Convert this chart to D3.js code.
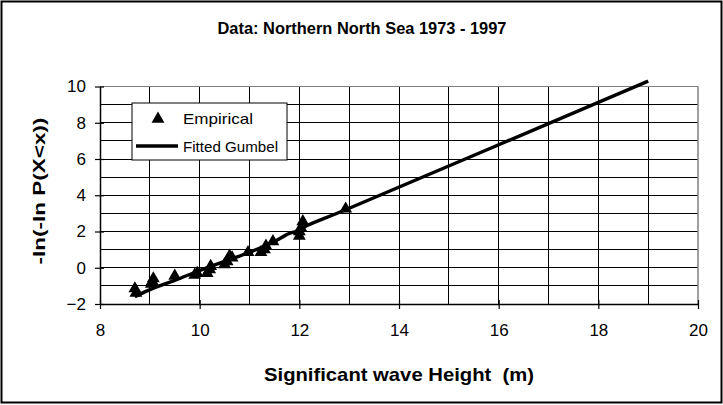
<!DOCTYPE html>
<html><head><meta charset="utf-8">
<script src="https://cdn.jsdelivr.net/npm/d3@7"></script>
<style>body{margin:0;background:#fff}svg{display:block;font-family:"Liberation Sans",Arial,sans-serif}</style>
</head><body><svg id="c" width="723" height="405"></svg>
<script>
const chartTitle = "Data: Northern North Sea 1973 - 1997";
const xTitle = "Significant wave Height  (m)";
const yTitle = "-ln(-ln P(X<x))";
const xTicks = [8, 10, 12, 14, 16, 18, 20];
const yTicks = [-2, 0, 2, 4, 6, 8, 10];
// Empirical points
const empX = [8.70, 8.72, 9.03, 9.05, 9.07, 9.50, 9.90, 9.95, 10.15, 10.20, 10.22, 10.50, 10.55, 10.60, 10.65, 10.97, 11.23, 11.30, 11.33, 11.47, 12.00, 12.00, 12.03, 12.07, 12.93];
const empY = [-1.15, -1.40, -0.90, -0.75, -0.60, -0.45, -0.40, -0.30, -0.30, -0.10, 0.08, 0.18, 0.35, 0.65, 0.55, 0.85, 0.85, 1.00, 1.20, 1.45, 1.75, 2.00, 2.20, 2.55, 3.25];
// Fitted Gumbel line
const fitX = [8.70, 9.05, 9.50, 10.00, 10.50, 11.00, 11.50, 11.80, 12.00, 12.10, 12.93, 19.00];
const fitY = [-1.60, -1.15, -0.70, -0.15, 0.35, 0.85, 1.45, 1.90, 2.05, 2.25, 3.20, 10.30];
const legendLabels = ["Empirical", "Fitted Gumbel"];

const svg = d3.select("#c");
svg.append("rect").attr("x",1.5).attr("y",1.5).attr("width",720).attr("height",401)
  .attr("fill","#fff").attr("stroke","#000").attr("stroke-width",2);

const L = 100, R = 698, T = 86.5, B = 304;
const x = d3.scaleLinear().domain([8,20]).range([L,R]);
const y = d3.scaleLinear().domain([-2,10]).range([B,T]);

// gridlines
const g = svg.append("g");
g.selectAll(".vg").data(d3.range(9,20)).join("line")
  .attr("x1",d=>x(d)).attr("x2",d=>x(d)).attr("y1",T).attr("y2",B)
  .attr("stroke","#000").attr("stroke-width",1).attr("shape-rendering","crispEdges");
g.selectAll(".hg").data(d3.range(-1,10)).join("line")
  .attr("x1",L).attr("x2",R).attr("y1",d=>y(d)).attr("y2",d=>y(d))
  .attr("stroke","#000").attr("stroke-width",1).attr("shape-rendering","crispEdges");
svg.append("line").attr("x1",L).attr("x2",R).attr("y1",T).attr("y2",T).attr("stroke","#808080").attr("stroke-width",1);
svg.append("line").attr("x1",R).attr("x2",R).attr("y1",T).attr("y2",B).attr("stroke","#808080").attr("stroke-width",1.5);

// axes
const xAxis = d3.axisBottom(x).tickValues(xTicks).tickSizeInner(5).tickSizeOuter(0).tickPadding(15);
const xa = svg.append("g").attr("transform",`translate(0,${B})`).call(xAxis);
xa.selectAll(".tick line").attr("y1",-4).attr("y2",5);
const yAxis = d3.axisLeft(y).tickValues(yTicks).tickSizeInner(5).tickSizeOuter(0).tickPadding(9);
const ya = svg.append("g").attr("transform",`translate(${L},0)`).call(yAxis);
ya.selectAll(".tick line").attr("x1",-5).attr("x2",4);
[xa,ya].forEach(a=>{
  a.select(".domain").attr("stroke","#000").attr("stroke-width",1.5);
  a.selectAll(".tick line").attr("stroke","#000").attr("stroke-width",1.2);
  a.selectAll("text").attr("font-size",17).attr("fill","#000").attr("font-family","Liberation Sans, Arial, sans-serif");
});

// fitted line
svg.append("path").datum(fitX.map((v,i)=>[v,fitY[i]]))
  .attr("d", d3.line().x(d=>x(d[0])).y(d=>y(d[1])).curve(d3.curveCatmullRom.alpha(0.5)))
  .attr("fill","none").attr("stroke","#000").attr("stroke-width",3.4).attr("stroke-linejoin","round");

// triangles
const tri = d3.symbol().type(d3.symbolTriangle).size(72);
svg.selectAll(".pt").data(empX.map((v,i)=>[v,empY[i]])).join("path")
  .attr("d",tri).attr("transform",d=>`translate(${x(d[0])},${y(d[1])})`).attr("fill","#000");

// titles
svg.append("text").attr("x",362).attr("y",34).attr("text-anchor","middle")
  .attr("font-size",17).attr("font-weight","bold").attr("textLength",289).attr("lengthAdjust","spacingAndGlyphs")
  .text(chartTitle);
svg.append("text").attr("x",(L+R)/2).attr("y",381).attr("text-anchor","middle")
  .attr("font-size",19).attr("font-weight","bold").attr("textLength",270).attr("lengthAdjust","spacingAndGlyphs")
  .style("white-space","pre").text(xTitle);
svg.append("text").attr("transform",`translate(45,191) rotate(-90)`).attr("text-anchor","middle")
  .attr("font-size",17).attr("font-weight","bold").attr("textLength",147).attr("lengthAdjust","spacingAndGlyphs")
  .text(yTitle);

// legend
const lg = svg.append("g");
lg.append("rect").attr("x",132).attr("y",103).attr("width",155).attr("height",57)
  .attr("fill","#fff").attr("stroke","#000").attr("stroke-width",1);
lg.append("path").attr("d",d3.symbol().type(d3.symbolTriangle).size(72)).attr("transform","translate(158,119)");
lg.append("line").attr("x1",136).attr("x2",178).attr("y1",146).attr("y2",146).attr("stroke","#000").attr("stroke-width",3.4);
lg.selectAll(".lt").data(legendLabels).join("text").attr("x",183).attr("y",(d,i)=>124+i*28)
  .attr("font-size",15).attr("textLength",(d,i)=>i?95:70).attr("lengthAdjust","spacingAndGlyphs").text(d=>d);
</script></body></html>
